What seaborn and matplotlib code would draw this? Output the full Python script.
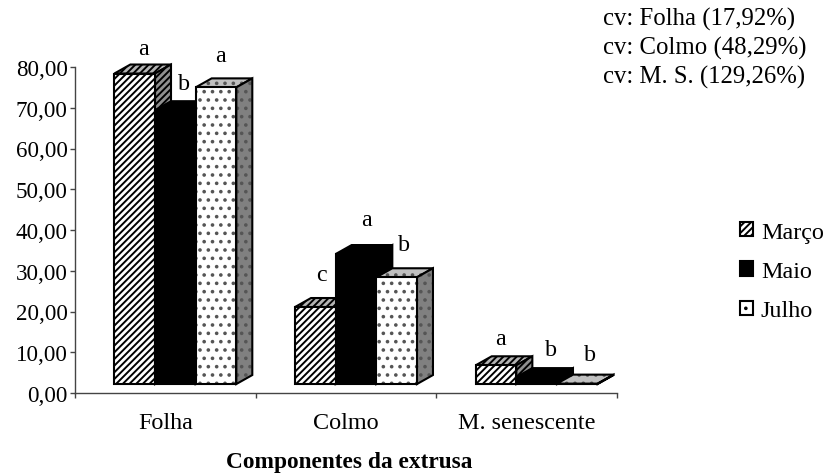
import matplotlib
matplotlib.use("Agg")
import matplotlib.pyplot as plt
from matplotlib.patches import Patch, Rectangle
import pandas as pd
import seaborn as sns

categories = ["Folha", "Colmo", "M. senescente"]
months = ["Março", "Maio", "Julho"]
marco = [76.2, 18.9, 4.6]
maio = [67.2, 31.9, 1.7]
julho = [72.8, 26.2, 0.1]
letters_marco = ["a", "c", "a"]
letters_maio = ["b", "a", "b"]
letters_julho = ["a", "b", "b"]
cv_notes = ["cv: Folha (17,92%)", "cv: Colmo (48,29%)", "cv: M. S. (129,26%)"]

W, H = 827, 477
SERIF = "Liberation Serif"
FS = 17.4
sns.set_theme(style="white")
plt.rcParams["font.family"] = [SERIF, "DejaVu Serif"]
plt.rcParams["hatch.linewidth"] = 1.4

df = pd.DataFrame({
    "cat": categories * 3,
    "mes": [m for m in months for _ in categories],
    "val": marco + maio + julho,
})

fig = plt.figure(figsize=(W / 100, H / 100), dpi=100)
ax = fig.add_axes([75 / W, 1 - 394 / H, (617 - 75) / W, (394 - 68) / H])

BASE = 2.2          # floor of the 3-D box above the axis line
SHIFT = 10 / 180.67 # bars sit right of the category centre
DX = 16 / 180.67
DY = 9 / 4.075
EDGE = 1.5
HATCH = {"Março": "/////", "Maio": None, "Julho": ".."}
HATCH_COLOR = {"Março": "black", "Maio": "black", "Julho": "#555555"}
TOP = {"Março": "#b4b4b4", "Maio": "black", "Julho": "#c0c0c0"}
SIDE = {"Março": "#909090", "Maio": "black", "Julho": "#808080"}
FACE = {"Março": "white", "Maio": "black", "Julho": "white"}

sns.barplot(data=df, x="cat", y="val", hue="mes", order=categories, hue_order=months,
            palette=FACE, width=0.675, gap=0, edgecolor="black", linewidth=EDGE,
            bottom=BASE, legend=False, ax=ax)

letters = letters_marco + letters_maio + letters_julho
letter_offsets = [  # pixels above the back edge of the bar's top, and sideways
    (16, 9), (24, 6), (18, 4),
    (18, 9), (26, 11), (19, 14),
    (23, 5), (24, 7), (20, 13),
]


def hatched(xs, ys, face, m, z):
    """Fill a face with its hatch, then stroke its outline in black."""
    ax.fill(xs, ys, facecolor=face, edgecolor=HATCH_COLOR[m], hatch=HATCH[m],
            linewidth=0, zorder=z, clip_on=False)
    ax.fill(xs, ys, fill=False, edgecolor="black", linewidth=EDGE, zorder=z,
            clip_on=False, joinstyle="miter")


for c, (container, m) in enumerate(zip(ax.containers, months)):
    for i, bar in enumerate(container):
        bar.set_x(bar.get_x() + SHIFT)
        bar.set_clip_on(False)
        bar.set_zorder(3 + 2 * c + 0.5)
        x0, x1 = bar.get_x(), bar.get_x() + bar.get_width()
        y0, y1 = bar.get_y(), bar.get_y() + bar.get_height()
        if HATCH[m]:
            bar.set_edgecolor(HATCH_COLOR[m])
            bar.set_hatch(HATCH[m])
            bar.set_linewidth(0)
            ax.add_patch(Rectangle((x0, y0), x1 - x0, y1 - y0, fill=False, edgecolor="black",
                                   linewidth=EDGE, zorder=3 + 2 * c + 0.6, clip_on=False))
        hatched([x0, x0 + DX, x1 + DX, x1], [y1, y1 + DY, y1 + DY, y1], TOP[m], m, 3 + 2 * c)
        hatched([x1, x1 + DX, x1 + DX, x1], [y0, y0 + DY, y1 + DY, y1], SIDE[m], m, 3 + 2 * c)
        off = letter_offsets[c * 3 + i]
        ax.annotate(letters[c * 3 + i], xy=((x0 + x1) / 2, y1 + DY), xycoords="data",
                    xytext=(off[1] * 0.72, off[0] * 0.72), textcoords="offset points",
                    ha="center", va="center", fontsize=FS, color="black",
                    zorder=20, annotation_clip=False)

ax.set_xlim(-0.5, 2.5)
ax.set_ylim(0, 80)
ax.set_yticks(range(0, 81, 10))
ax.set_yticklabels([f"{v},00" for v in range(0, 81, 10)], fontsize=16.6, color="black")
ax.set_xticks(range(3))
ax.set_xticklabels(categories, fontsize=FS, color="black")
ax.set_xticks([-0.5, 0.5, 1.5, 2.5], minor=True)
ax.tick_params(axis="x", which="major", length=0, pad=14)
ax.tick_params(axis="x", which="minor", length=3.8, width=1, color="#444444", bottom=True)
ax.tick_params(axis="y", which="major", length=3.8, width=1, color="#444444", left=True, pad=1.5)
ax.set_xlabel("")
ax.set_ylabel("")
sns.despine(ax=ax)
for s in ("left", "bottom"):
    ax.spines[s].set_color("#444444")
    ax.spines[s].set_linewidth(1)
ax.grid(False)

fig.text(349 / W, 1 - 463 / H, "Componentes da extrusa", ha="center", va="center",
         fontsize=16.8, fontweight="bold", color="black")

for note, py in zip(cv_notes, [19, 48, 77]):
    fig.text(603 / W, 1 - py / H, note, ha="left", va="center", fontsize=17.8, color="black")

handles = [Patch(facecolor=FACE[m], edgecolor="black", linewidth=EDGE,
                 hatch=HATCH[m]) for m in months]
fig.legend(handles, months, loc="center left", bbox_to_anchor=(740 / W, 1 - 272.5 / H),
           frameon=False, fontsize=FS, handlelength=0.53, handleheight=0.53,
           handletextpad=0.33, labelspacing=0.76, labelcolor="black",
           borderaxespad=0, borderpad=0)

fig.savefig("out.png", dpi=100)
